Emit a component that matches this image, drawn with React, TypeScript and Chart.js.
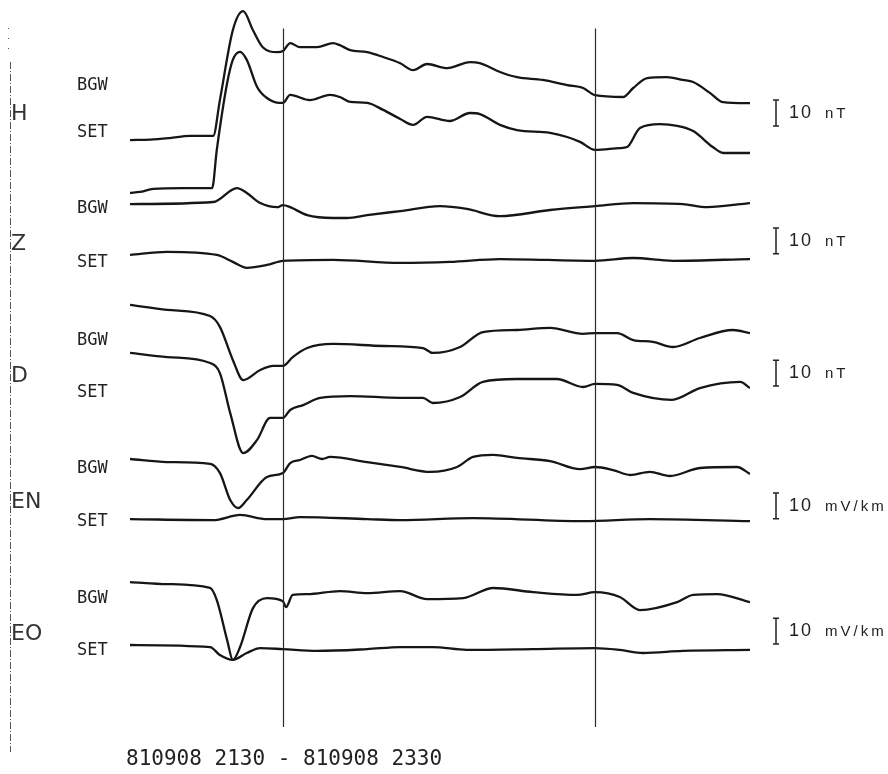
import React, { useEffect, useRef } from "react";
import { Chart, registerables } from "chart.js";
Chart.register(...registerables);

// time axis: minutes after 810908 2130 (0..120 -> 2130..2330)
const timeMin = 0;
const timeMax = 120;
const hourMarks = [29.6, 90];

// ---- H component (nT deflection from start level) ----
const hBgwT = [0, 3.9, 7.7, 11.6, 16.1, 17.4, 19.9, 21.9, 23.8, 25.7, 28.5, 29.6, 31.0, 32.9, 36.2, 39.3, 40.6, 42.6, 45.9, 49.0, 52.3, 54.8, 57.5, 61.4, 65.8, 67.7, 71.6, 74.9, 79.9, 84.6, 87.7, 90.0, 95.4, 97.4, 100.1, 103.9, 107.0, 109.0, 112.3, 114.8, 120];
const hBgwV = [0, 0.2, 0.8, 1.6, 1.6, 15.5, 42.6, 50.0, 42.6, 36.0, 34.1, 34.5, 37.6, 36.0, 36.0, 37.6, 36.8, 34.9, 34.1, 32.2, 29.8, 27.1, 29.5, 27.9, 30.2, 29.8, 26.4, 24.4, 23.3, 21.3, 20.2, 17.4, 16.7, 20.2, 24.0, 24.4, 23.3, 22.5, 18.2, 14.7, 14.3];
const hSetT = [0, 1.9, 4.5, 10.3, 15.9, 16.8, 18.8, 19.9, 21.3, 22.6, 24.6, 26.5, 29.0, 29.6, 31.0, 34.8, 38.7, 40.6, 42.6, 45.9, 49.0, 52.3, 54.8, 57.5, 61.9, 65.8, 67.7, 71.6, 74.9, 81.3, 84.6, 87.1, 90.0, 94.8, 96.2, 98.7, 102.6, 105.9, 109.0, 112.8, 114.8, 120];
const hSetV = [0, 0.4, 1.6, 1.9, 1.9, 16.7, 42.6, 51.6, 54.7, 51.6, 41.1, 36.8, 34.9, 34.9, 38.0, 36.0, 38.0, 37.2, 35.3, 34.9, 32.2, 28.7, 26.4, 29.5, 27.9, 31.0, 30.6, 26.4, 24.4, 23.3, 21.7, 19.8, 16.7, 17.4, 17.8, 25.2, 26.7, 26.0, 24.0, 17.8, 15.5, 15.5];

// ---- Z component ----
const zBgwT = [0, 16.1, 20.7, 22.6, 25.2, 28.5, 29.6, 31.0, 34.3, 39.3, 42.0, 45.9, 52.3, 60.0, 65.2, 71.6, 81.3, 90.0, 97.4, 107.0, 111.7, 120];
const zBgwV = [0, 0.8, 6.2, 4.3, 0.4, -1.2, -0.4, -1.2, -4.3, -5.4, -5.4, -4.3, -2.7, -0.8, -1.9, -4.7, -2.3, -0.8, 0.4, 0, -1.2, 0.4];
const zSetT = [0, 7.2, 16.8, 19.9, 22.6, 26.5, 29.6, 39.3, 52.3, 61.9, 71.6, 90.0, 97.4, 105.1, 120];
const zSetV = [0, 1.2, 0, -2.7, -5.0, -3.9, -2.3, -1.9, -3.1, -2.7, -1.6, -2.3, -1.2, -2.3, -1.6];

// ---- D component ----
const dBgwT = [0, 7.2, 15.5, 17.4, 19.9, 21.9, 25.2, 27.7, 29.6, 31.5, 34.3, 39.3, 49.0, 56.7, 58.6, 63.9, 68.3, 74.9, 81.3, 87.7, 90.0, 94.3, 97.4, 101.2, 105.1, 110.3, 116.7, 120];
const dBgwV = [0, -1.9, -4.3, -8.5, -21.3, -29.1, -25.2, -23.6, -23.6, -20.2, -16.7, -15.1, -15.9, -16.7, -18.6, -16.3, -10.5, -9.7, -8.9, -11.2, -10.9, -10.9, -13.6, -14.3, -16.3, -12.8, -9.7, -10.9];
const dSetT = [0, 7.2, 15.5, 17.4, 19.4, 21.9, 24.6, 27.1, 29.6, 31.0, 33.5, 36.8, 42.6, 52.3, 56.7, 58.6, 63.9, 68.3, 74.9, 82.6, 87.7, 90.0, 94.3, 97.4, 104.9, 110.3, 118.1, 120];
const dSetV = [0, -1.6, -3.9, -7.8, -23.3, -38.8, -33.7, -25.2, -25.2, -22.1, -20.2, -17.4, -16.7, -17.4, -17.4, -19.4, -17.1, -11.2, -10.1, -10.1, -13.2, -12.0, -12.4, -15.5, -18.2, -13.6, -11.2, -13.6];

// ---- EN component (mV/km) ----
const enBgwT = [0, 7.2, 15.5, 17.4, 19.4, 20.9, 22.6, 26.5, 29.6, 31.0, 32.9, 35.2, 37.2, 38.7, 45.9, 52.3, 58.1, 63.3, 66.4, 70.3, 74.9, 81.3, 87.1, 90.0, 93.5, 96.8, 100.6, 104.5, 110.3, 117.5, 120];
const enBgwV = [0, -1.2, -1.9, -5.4, -15.9, -19.0, -15.9, -7.0, -5.4, -1.6, -0.4, 1.2, 0, 0.8, -1.2, -3.1, -5.0, -3.1, 0.8, 1.6, 0.4, -0.8, -3.9, -3.1, -4.3, -6.2, -5.0, -6.6, -3.5, -3.1, -5.8];
const enSetT = [0, 16.1, 21.3, 26.5, 29.6, 32.9, 45.9, 52.3, 66.4, 87.7, 100.6, 120];
const enSetV = [0, -0.4, 1.6, 0, 0, 0.8, 0, -0.4, 0.4, -0.8, 0, -0.8];

// ---- EO component (mV/km) ----
const eoBgwT = [0, 7.2, 15.5, 16.8, 18.8, 19.9, 21.3, 23.8, 26.5, 29.6, 30.2, 31.5, 34.3, 40.6, 45.9, 52.3, 57.5, 64.5, 70.3, 78.0, 86.5, 90.0, 94.8, 98.7, 105.9, 109.0, 113.6, 120];
const eoBgwV = [0, -0.8, -2.3, -7.0, -22.5, -30.2, -25.2, -10.1, -6.2, -7.4, -9.7, -5.0, -4.7, -3.5, -4.3, -3.5, -6.6, -6.2, -2.3, -3.9, -5.0, -3.9, -5.8, -10.9, -7.8, -5.0, -4.7, -7.8];
const eoSetT = [0, 15.5, 17.4, 19.9, 22.6, 25.2, 29.6, 36.2, 45.9, 52.3, 58.6, 65.2, 78.0, 90.0, 94.8, 99.3, 107.0, 120];
const eoSetV = [0, -0.8, -3.9, -5.8, -3.1, -1.2, -1.6, -2.3, -1.6, -0.8, -0.8, -1.9, -1.6, -1.2, -1.9, -3.1, -2.3, -1.9];

// trace order and baseline levels (layout, in plot units)
const traceTimes = [hBgwT, hSetT, zBgwT, zSetT, dBgwT, dSetT, enBgwT, enSetT, eoBgwT, eoSetT];
const traceValues = [hBgwV, hSetV, zBgwV, zSetV, dBgwV, dSetV, enBgwV, enSetV, eoBgwV, eoSetV];
const traceBaselines = [245.7, 225.2, 220.9, 201.2, 181.8, 163.2, 122.1, 98.8, 74.4, 50.0];

// annotations
const components = ["H", "Z", "D", "EN", "EO"];
const componentY = [120, 250, 382, 508, 640];
const stationLabels = ["BGW", "SET", "BGW", "SET", "BGW", "SET", "BGW", "SET", "BGW", "SET"];
const stationY = [90, 137, 213, 267, 345, 397, 473, 526, 603, 655];
const scaleValue = "10";
const scaleUnits = ["nT", "nT", "nT", "mV/km", "mV/km"];
const scaleCenters = [256.2, 206.6, 155.4, 103.9, 55.4];
const scaleSize = 10;
const footer = "810908 2130 - 810908 2330";

const Y_MAX = 300;

const annotationPlugin = {
  id: "magnetogramAnnotations",
  afterDatasetsDraw(chart: any) {
    const ctx = chart.ctx as CanvasRenderingContext2D;
    const xs = chart.scales.x;
    const ys = chart.scales.y;
    ctx.save();

    // hour marker lines
    ctx.strokeStyle = "#2a2a2a";
    ctx.lineWidth = 1.2;
    for (const t of hourMarks) {
      const px = Math.round(xs.getPixelForValue(t)) + 0.5;
      ctx.beginPath();
      ctx.moveTo(px, ys.getPixelForValue(289));
      ctx.lineTo(px, ys.getPixelForValue(18.2));
      ctx.stroke();
    }

    // left dash-dot border
    ctx.strokeStyle = "#555";
    ctx.lineWidth = 1;
    ctx.setLineDash([7, 2, 1, 2]);
    ctx.beginPath();
    ctx.moveTo(10.5, 62);
    ctx.lineTo(10.5, 752);
    ctx.stroke();
    ctx.setLineDash([1, 9]);
    ctx.beginPath();
    ctx.moveTo(8.5, 28);
    ctx.lineTo(8.5, 55);
    ctx.stroke();
    ctx.setLineDash([]);

    // scale bars
    ctx.strokeStyle = "#222";
    ctx.fillStyle = "#222";
    ctx.lineWidth = 1.5;
    const barX = 776;
    scaleCenters.forEach((c, i) => {
      const top = ys.getPixelForValue(c + scaleSize / 2);
      const bot = ys.getPixelForValue(c - scaleSize / 2);
      ctx.beginPath();
      ctx.moveTo(barX, top);
      ctx.lineTo(barX, bot);
      ctx.moveTo(barX - 3, top);
      ctx.lineTo(barX + 3, top);
      ctx.moveTo(barX - 3, bot);
      ctx.lineTo(barX + 3, bot);
      ctx.stroke();
      const mid = (top + bot) / 2;
      ctx.textBaseline = "middle";
      ctx.font = "18px 'Liberation Sans Narrow', 'Liberation Sans', sans-serif";
      (ctx as any).letterSpacing = "2px";
      ctx.fillText(scaleValue, 789, mid);
      ctx.font = "15px 'Liberation Sans', sans-serif";
      (ctx as any).letterSpacing = "3px";
      ctx.fillText(scaleUnits[i], 825, mid + 1);
      (ctx as any).letterSpacing = "0px";
    });

    // component letters
    ctx.fillStyle = "#333";
    ctx.textBaseline = "alphabetic";
    ctx.font = "22px 'DejaVu Sans', sans-serif";
    components.forEach((c, i) => {
      ctx.fillText(c, 11, componentY[i]);
    });

    // station labels
    ctx.fillStyle = "#222";
    ctx.font = "17px 'DejaVu Sans Mono', monospace";
    stationLabels.forEach((s, i) => {
      ctx.fillText(s, 77, stationY[i]);
    });

    // footer
    ctx.font = "21px 'DejaVu Sans Mono', monospace";
    ctx.fillStyle = "#222";
    ctx.fillText(footer, 126, 765);

    ctx.restore();
  },
};

export default function App() {
  const canvasRef = useRef<HTMLCanvasElement | null>(null);

  useEffect(() => {
    if (!canvasRef.current) return;
    const datasets = traceTimes.map((times, i) => ({
      label: stationLabels[i] + " " + i,
      data: times.map((t, j) => ({ x: t, y: traceBaselines[i] + traceValues[i][j] })),
      borderColor: "#161616",
      borderWidth: 2.3,
      pointRadius: 0,
      fill: false,
      cubicInterpolationMode: "monotone" as const,
    }));
    const chart = new Chart(canvasRef.current, {
      type: "line",
      data: { datasets },
      options: {
        animation: false,
        responsive: false,
        devicePixelRatio: 1,
        layout: { padding: { left: 130, right: 138, top: 0, bottom: 0 } },
        scales: {
          x: { type: "linear", min: timeMin, max: timeMax, display: false },
          y: { type: "linear", min: 0, max: Y_MAX, display: false },
        },
        plugins: { legend: { display: false }, tooltip: { enabled: false } },
      },
      plugins: [annotationPlugin],
    });
    return () => chart.destroy();
  }, []);

  return (
    <div style={{ position: "absolute", left: 0, top: 0, width: 888, height: 774, background: "#fff" }}>
      <canvas ref={canvasRef} width={888} height={774} style={{ display: "block" }} />
    </div>
  );
}
